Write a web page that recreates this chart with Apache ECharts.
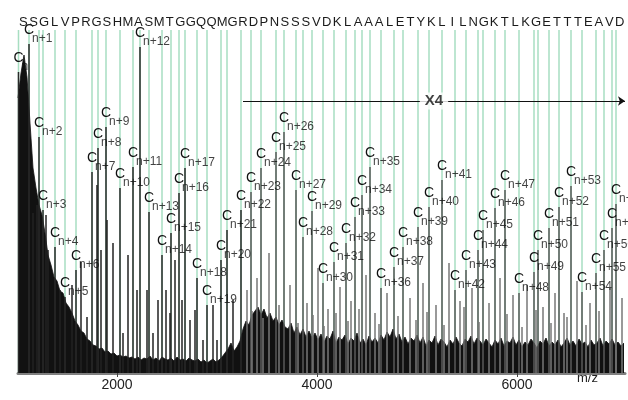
<!DOCTYPE html>
<html>
<head>
<meta charset="utf-8">
<script src="https://cdn.jsdelivr.net/npm/echarts@6/dist/echarts.min.js"></script>
<style>
  html, body { margin: 0; padding: 0; background: #fff; }
  #chart { width: 628px; height: 400px; }
</style>
</head>
<body>
<div id="chart"></div>
<script>
// sequence shown along the top
const seqLetters = 'SSGLVPRGSHMASMTGGQQMGRDPNSSSVDKLAAALETYKLILNGKTLKGETTTEAVD'.split('')

// c-ion peaks (m/z, relative height) Cn .. Cn+58
const cMz = [1015, 1120, 1220, 1260, 1380, 1480, 1590, 1750, 1810, 1890,
             2030, 2160, 2230, 2320, 2450, 2540, 2620, 2680, 2800, 2900,
             3040, 3100, 3240, 3340, 3440, 3590, 3670, 3790, 3860, 3950,
             4060, 4170, 4290, 4380, 4450, 4530, 4640, 4770, 4860, 5010,
             5120, 5250, 5380, 5490, 5610, 5660, 5780, 5880, 6020, 6170,
             6210, 6320, 6420, 6540, 6650, 6790, 6870, 6950, 6990]
const cInt = [301, 329, 236, 163, 126, 76, 103, 201, 225, 246,
              185, 206, 326, 161, 118, 140, 180, 205, 95, 68,
              113, 143, 163, 181, 205, 221, 241, 183, 136, 162,
              90, 111, 130, 156, 178, 206, 85, 106, 126, 146,
              166, 193, 83, 103, 123, 143, 165, 183, 80, 101,
              123, 145, 166, 187, 81, 100, 123, 145, 169]

// other (unlabelled) peaks
const extraMz = [1160, 1200, 1290, 1310, 1430, 1550, 1640, 1700, 1800, 1840,
                 1900, 1960, 2060, 2110, 2200, 2300, 2360, 2410, 2490, 2530,
                 2580, 2650, 2730, 2780, 2860, 2960, 3000, 3160, 3300,
                 3400, 3520, 3730, 3900, 4010, 4110, 4230, 4340, 4490, 4580,
                 4700, 4930, 5060, 5190, 5320, 5430, 5550, 5720, 5830, 5960,
                 6100, 6260, 6380, 6470, 6600, 6730, 6930, 7050,
                 3350, 3460, 3620, 3810, 3960, 4070, 4190, 4310, 4420, 4620,
                 4810, 4990, 5100, 5270, 5470, 5620, 5900, 6050, 6190, 6340,
                 6500, 6690, 6820, 6990]
const extraInt = [160, 168, 158, 123, 83, 88, 111, 56, 188, 123,
                  153, 130, 40, 118, 83, 83, 40, 73, 83, 60,
                  113, 73, 53, 63, 33, 68, 33, 73, 83,
                  95, 120, 88, 70, 105, 64, 86, 72, 98, 60,
                  80, 75, 90, 68, 110, 72, 85, 70, 95, 78,
                  88, 66, 80, 60, 92, 70, 85, 75,
                  62, 55, 68, 50, 58, 47, 60, 52, 64, 49,
                  57, 53, 61, 48, 66, 51, 59, 46, 63, 50,
                  56, 48, 62, 54]

// chemical noise envelope, sampled every 30 m/z from 1010
const noiseStart = 1010
const noiseStep = 30
const noiseInt = [
  275, 300, 318, 296, 250, 205, 185, 168, 158, 140,
  118, 108, 96, 92, 82, 80, 70, 66, 60, 52,
  48, 42, 40, 34, 32, 28, 27, 24, 25, 21,
  22, 19, 20, 17, 18, 16, 17, 15, 16, 14,
  16, 13, 15, 14, 17, 13, 15, 12, 16, 14,
  13, 15, 12, 16, 13, 14, 12, 15, 13, 12,
  14, 11, 13, 10, 12, 14, 11, 13, 16, 20,
  24, 30, 22, 26, 32, 44, 52, 48, 58, 62,
  66, 58, 64, 55, 60, 52, 56, 48, 53, 46,
  44, 50, 40, 46, 38, 44, 36, 42, 35, 40,
  33, 39, 31, 37, 34, 42, 30, 36, 33, 38,
  29, 35, 32, 40, 30, 34, 28, 37, 31, 35,
  30, 38, 33, 41, 36, 44, 34, 39, 31, 36,
  29, 35, 32, 38, 30, 36, 27, 33, 30, 37,
  28, 34, 31, 26, 33, 29, 36, 30, 27, 34,
  31, 37, 29, 35, 32, 28, 34, 30, 26, 33,
  29, 35, 27, 32, 30, 36, 28, 33, 26, 31,
  28, 34, 30, 25, 32, 29, 35, 27, 31, 28,
  33, 26, 30, 35, 28, 32, 27, 34, 29, 31,
  26, 33, 28, 30, 35, 27, 32, 29, 34, 28, 31, 27, 30
]

const xTicks = [2000, 4000, 6000]
const x4Range = [3260, 7080]
const x4Level = 272

const font = '"Liberation Sans", Arial, sans-serif'
const yTop = 343

const chart = echarts.init(document.getElementById('chart'))

const noiseData = noiseInt.map((v, i) => [noiseStart + i * noiseStep, v])

const peakData = cMz.map((m, i) => ({
    value: [m, cInt[i]],
    itemStyle: { color: m < 3250 ? '#2a2a2a' : '#5a5a5a' },
})).concat(extraMz.map((m, i) => ({
    value: [m, extraInt[i]],
    label: { show: false },
    itemStyle: { color: m < 3250 ? '#222' : '#777' },
})))

const option = {
    animation: false,
    grid: { left: 18, right: 3, top: 30, bottom: 27 },
    xAxis: [
        {
            type: 'value',
            min: 1010,
            max: 7080,
            splitLine: { show: false },
            axisLine: { show: true, lineStyle: { color: '#808080', width: 3 } },
            axisTick: { show: true, customValues: xTicks, length: 4, lineStyle: { color: '#444' } },
            axisLabel: {
                customValues: xTicks,
                formatter: (v) => String(v),
                color: '#222',
                fontSize: 14,
                fontFamily: font,
                margin: 5,
            },
        },
        {
            type: 'category',
            position: 'top',
            data: seqLetters,
            boundaryGap: true,
            axisLine: { show: false },
            axisTick: { show: false },
            axisLabel: { interval: 0, color: '#1a1a1a', fontSize: 13, fontFamily: font, margin: 1 },
        },
    ],
    yAxis: { type: 'value', min: 0, max: yTop, show: false },
    graphic: [
        { type: 'text', left: 577, top: 372, style: { text: 'm/z', fontSize: 13, fontFamily: font, fill: '#222' } },
    ],
    series: [
        {
            // green guide lines at each c-ion
            type: 'custom',
            z: 1,
            silent: true,
            data: cMz.map((m) => [m, yTop]),
            encode: { x: 0, y: 1 },
            renderItem: function (params, api) {
                const top = api.coord([api.value(0), yTop])
                const bot = api.coord([api.value(0), 0])
                return {
                    type: 'line',
                    shape: { x1: top[0], y1: top[1], x2: bot[0], y2: bot[1] },
                    style: { stroke: 'rgba(120, 205, 160, 0.65)', lineWidth: 1.5 },
                }
            },
        },
        {
            type: 'line',
            z: 2,
            silent: true,
            data: noiseData,
            showSymbol: false,
            lineStyle: { color: '#111', width: 0.8 },
            areaStyle: { color: '#111', opacity: 1 },
            markLine: {
                silent: true,
                symbol: ['none', 'arrow'],
                symbolSize: 7,
                lineStyle: { color: '#111', width: 1, type: 'solid' },
                label: { show: false },
                data: [[{ coord: [x4Range[0], x4Level] }, { coord: [x4Range[1], x4Level] }]],
            },
        },
        {
            // peaks, with the "C" of each c-ion label
            type: 'bar',
            z: 3,
            barWidth: 1.5,
            data: peakData,
            label: {
                show: true,
                position: 'top',
                align: 'left',
                verticalAlign: 'bottom',
                distance: 0,
                offset: [-5, -7],
                formatter: 'C',
                fontSize: 14,
                lineHeight: 14,
                fontFamily: font,
                color: '#111',
            },
        },
        {
            // subscripts n+k
            type: 'scatter',
            z: 4,
            silent: true,
            symbolSize: 0.1,
            itemStyle: { color: 'rgba(0,0,0,0)' },
            data: cMz.map((m, i) => [m, cInt[i]]),
            label: {
                show: true,
                position: 'top',
                align: 'left',
                verticalAlign: 'bottom',
                distance: 0,
                offset: [3, 1],
                formatter: (p) => (p.dataIndex ? 'n+' + p.dataIndex : 'n'),
                fontSize: 12,
                lineHeight: 12,
                fontFamily: font,
                color: '#111',
            },
        },
        {
            // X4 magnification marker
            type: 'scatter',
            z: 5,
            silent: true,
            symbolSize: 0.1,
            itemStyle: { color: 'rgba(0,0,0,0)' },
            data: [[(x4Range[0] + x4Range[1]) / 2, x4Level]],
            label: {
                show: true,
                position: 'inside',
                formatter: 'X4',
                color: '#111',
                fontSize: 15,
                fontWeight: 'bold',
                fontFamily: font,
                backgroundColor: '#fff',
                padding: [1, 5],
            },
        },
    ],
}
chart.setOption(option)
</script>
</body>
</html>
